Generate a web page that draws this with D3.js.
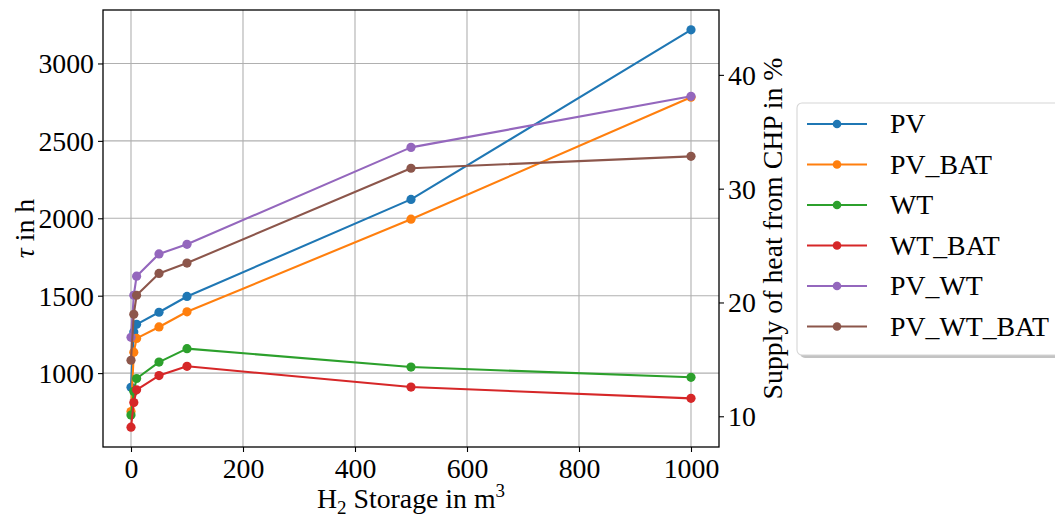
<!DOCTYPE html>
<html>
<head>
<meta charset="utf-8">
<script src="https://cdn.jsdelivr.net/npm/d3@7"></script>
<style>
  body { margin: 0; background: #fff; }
  svg { font-family: "Liberation Serif", "DejaVu Serif", serif; }
</style>
</head>
<body>
<svg width="1055" height="519"></svg>
<script>
// ************** data **************************************
var storage = [0, 5, 10, 50, 100, 500, 1000];
var seriesNames = ["PV", "PV_BAT", "WT", "WT_BAT", "PV_WT", "PV_WT_BAT"];
var pv        = [908, 1266, 1315, 1393, 1495, 2122, 3217];
var pvBat     = [752, 1135, 1224, 1298, 1396, 1994, 2782];
var wt        = [729, 882, 965, 1071, 1158, 1039, 973];
var wtBat     = [651, 810, 892, 984, 1044, 910, 837];
var pvWt      = [1231, 1503, 1626, 1770, 1832, 2458, 2788];
var pvWtBat   = [1083, 1380, 1503, 1644, 1711, 2323, 2400];
var seriesValues = [pv, pvBat, wt, wtBat, pvWt, pvWtBat];
var colors = ["#1f77b4", "#ff7f0e", "#2ca02c", "#d62728", "#9467bd", "#8c564b"];

var xTicks = [0, 200, 400, 600, 800, 1000];
var yTicks = [1000, 1500, 2000, 2500, 3000];
var y2Ticks = [10, 20, 30, 40];
var y2Domain = [7.3, 45.7];

var svg = d3.select("svg"),
    margin = {left: 103, top: 10, right: 336, bottom: 72},
    width = +svg.attr("width") - margin.left - margin.right,
    height = +svg.attr("height") - margin.top - margin.bottom,
    g = svg.append("g").attr("transform", "translate(" + margin.left + "," + margin.top + ")");

var fontSize = 27.8;

// matplotlib-like 5% padding
var allY = d3.merge(seriesValues);
var yMin = d3.min(allY), yMax = d3.max(allY), yPad = (yMax - yMin) * 0.05;
var xMin = d3.min(storage), xMax = d3.max(storage), xPad = (xMax - xMin) * 0.05;

var x = d3.scaleLinear().domain([xMin - xPad, xMax + xPad]).range([0, width]);
var y = d3.scaleLinear().domain([yMin - yPad, yMax + yPad]).range([height, 0]);
var y2 = d3.scaleLinear().domain(y2Domain).range([height, 0]);

// grid
g.append("g").selectAll("line").data(xTicks).enter().append("line")
    .attr("x1", function (d) { return x(d); }).attr("x2", function (d) { return x(d); })
    .attr("y1", 0).attr("y2", height)
    .attr("stroke", "#b0b0b0").attr("stroke-width", 1.1);
g.append("g").selectAll("line").data(yTicks).enter().append("line")
    .attr("y1", function (d) { return y(d); }).attr("y2", function (d) { return y(d); })
    .attr("x1", 0).attr("x2", width)
    .attr("stroke", "#b0b0b0").attr("stroke-width", 1.1);

// series
var line = d3.line()
    .x(function (d) { return x(d[0]); })
    .y(function (d) { return y(d[1]); });

seriesValues.forEach(function (vals, i) {
    var pts = storage.map(function (s, j) { return [s, vals[j]]; });
    g.append("path")
        .datum(pts)
        .attr("fill", "none")
        .attr("stroke", colors[i])
        .attr("stroke-width", 2.1)
        .attr("stroke-linejoin", "round")
        .attr("d", line);
    g.append("g").selectAll("circle").data(pts).enter().append("circle")
        .attr("cx", function (d) { return x(d[0]); })
        .attr("cy", function (d) { return y(d[1]); })
        .attr("r", 4.6)
        .attr("fill", colors[i]);
});

// axes
function styleAxis(sel) {
    sel.select(".domain").remove();
    sel.selectAll(".tick line").attr("stroke", "#000").attr("stroke-width", 1.1);
    sel.selectAll(".tick text").attr("fill", "#000").style("font-size", fontSize + "px")
        .style("font-family", "'Liberation Serif', 'DejaVu Serif', serif");
}

g.append("g")
    .attr("transform", "translate(0," + height + ")")
    .call(d3.axisBottom(x).tickValues(xTicks).tickSize(5).tickPadding(5).tickFormat(d3.format("d")))
    .call(styleAxis)
    .selectAll(".tick text").attr("dy", "0.74em");

g.append("g")
    .call(d3.axisLeft(y).tickValues(yTicks).tickSize(5).tickPadding(4).tickFormat(d3.format("d")))
    .call(styleAxis)
    .selectAll(".tick text").attr("dy", "0.34em");

g.append("g")
    .attr("transform", "translate(" + width + ",0)")
    .call(d3.axisRight(y2).tickValues(y2Ticks).tickSize(5).tickPadding(4).tickFormat(d3.format("d")))
    .call(styleAxis)
    .selectAll(".tick text").attr("dy", "0.34em");

// spines
g.append("rect")
    .attr("width", width).attr("height", height)
    .attr("fill", "none").attr("stroke", "#000").attr("stroke-width", 1.3);

// axis labels
var xl = svg.append("text")
    .attr("x", margin.left + width / 2).attr("y", 508)
    .attr("text-anchor", "middle").style("font-size", fontSize + "px");
xl.append("tspan").text("H");
xl.append("tspan").attr("dy", 6).style("font-size", "19px").text("2");
xl.append("tspan").attr("dy", -6).text(" Storage in m");
xl.append("tspan").attr("dy", -11).style("font-size", "19px").text("3");

var yl = svg.append("text")
    .attr("transform", "translate(34," + (margin.top + height / 2) + ") rotate(-90)")
    .attr("text-anchor", "middle").style("font-size", fontSize + "px");
yl.append("tspan").style("font-style", "italic").text("τ");
yl.append("tspan").text(" in h");

svg.append("text")
    .attr("transform", "translate(782," + (margin.top + height / 2) + ") rotate(-90)")
    .attr("text-anchor", "middle").style("font-size", fontSize + "px")
    .text("Supply of heat from CHP in %");

// legend
var legend = svg.append("g").attr("transform", "translate(797,103)");
legend.append("rect")
    .attr("x", 3).attr("y", 3).attr("width", 280).attr("height", 252).attr("rx", 5)
    .attr("fill", "#888").attr("opacity", 0.5);
legend.append("rect")
    .attr("width", 280).attr("height", 252).attr("rx", 5)
    .attr("fill", "#fff").attr("stroke", "#d6d6d6").attr("stroke-width", 1.1);

var item = legend.selectAll(".item").data(seriesNames).enter().append("g")
    .attr("class", "item")
    .attr("transform", function (d, i) { return "translate(0," + (21 + i * 40.5) + ")"; });
item.append("line")
    .attr("x1", 10).attr("x2", 70)
    .attr("stroke", function (d, i) { return colors[i]; })
    .attr("stroke-width", 2.1);
item.append("circle")
    .attr("cx", 40).attr("r", 4.3)
    .attr("fill", function (d, i) { return colors[i]; });
item.append("text")
    .attr("x", 93).attr("dy", "0.34em")
    .style("font-size", fontSize + "px")
    .text(function (d) { return d; });
</script>
</body>
</html>
